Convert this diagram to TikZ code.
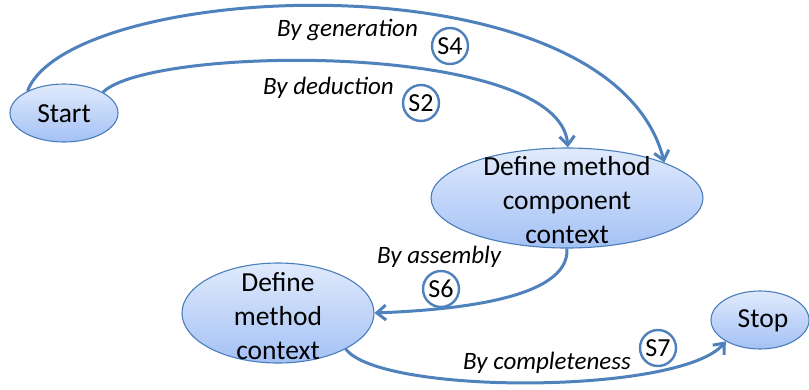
\documentclass[tikz,border=0pt]{standalone}
\usepackage{fontspec}
\setmainfont{Carlito}
\usetikzlibrary{arrows.meta,shapes.geometric}
\definecolor{edgeblue}{HTML}{4F81BD}
\definecolor{rimblue}{HTML}{4A7EBB}
\definecolor{filltop}{HTML}{E0EAFC}
\definecolor{fillbot}{HTML}{A4C1F5}
\tikzset{
  statebox/.style={ellipse, draw=rimblue, line width=1.1pt, top color=filltop, bottom color=fillbot, inner sep=0pt},
  statetext/.style={align=center, font=\fontsize{27.5}{34}\selectfont, inner sep=0pt},
  edgelabel/.style={font=\fontsize{25}{28}\selectfont\itshape, inner sep=0pt, anchor=base west},
  stepmark/.style={circle, draw=edgeblue, line width=2.4pt, fill=white, minimum size=36pt, inner sep=0pt, font=\fontsize{26}{28}\selectfont},
  flow/.style={draw=edgeblue, line width=3pt, -{Straight Barb[length=9pt,width=15pt]}}
}
\begin{document}
\begin{tikzpicture}[x=1pt,y=-1pt]
\useasboundingbox (0,0) rectangle (809,389);
% states
\node[statebox, minimum width=108pt, minimum height=58pt] (start) at (64,113) {};
\node[statetext] (starttext) at (64,114) {Start};
\node[statebox, minimum width=272pt, minimum height=100pt] (dmcc) at (567,198) {};
\node[statetext] (dmcctext) at (567,200) {Define method\\component\\context};
\node[statebox, minimum width=192pt, minimum height=100pt] (dmc) at (278,313) {};
\node[statetext] (dmctext) at (278,316) {Define\\method\\context};
\node[statebox, minimum width=98pt, minimum height=58pt] (stop) at (760,320) {};
\node[statetext] (stoptext) at (763,321) {Stop};
% connectors
\draw[flow] (start.149) .. controls (70,-20) and (610,-48) .. (dmcc.20);
\draw[flow] (start.28) .. controls (150,45) and (560,41) .. (dmcc.89);
\draw[flow] (dmcc.270) .. controls (570,300) and (450,310) .. (dmc.east);
\draw[flow] (dmc.-28) .. controls (380,395) and (680,395) .. (stop.212);
% labels
\node[edgelabel] (lgen) at (277,36) {By generation};
\node[edgelabel] (lded) at (263,94) {By deduction};
\node[edgelabel] (lasm) at (377,263) {By assembly};
\node[edgelabel] (lcmp) at (463,369) {By completeness};
\node[stepmark] (s4) at (450,46) {S4};
\node[stepmark] (s2) at (421,103) {S2};
\node[stepmark] (s6) at (441,289) {S6};
\node[stepmark] (s7) at (658,348) {S7};
\end{tikzpicture}
\end{document}
